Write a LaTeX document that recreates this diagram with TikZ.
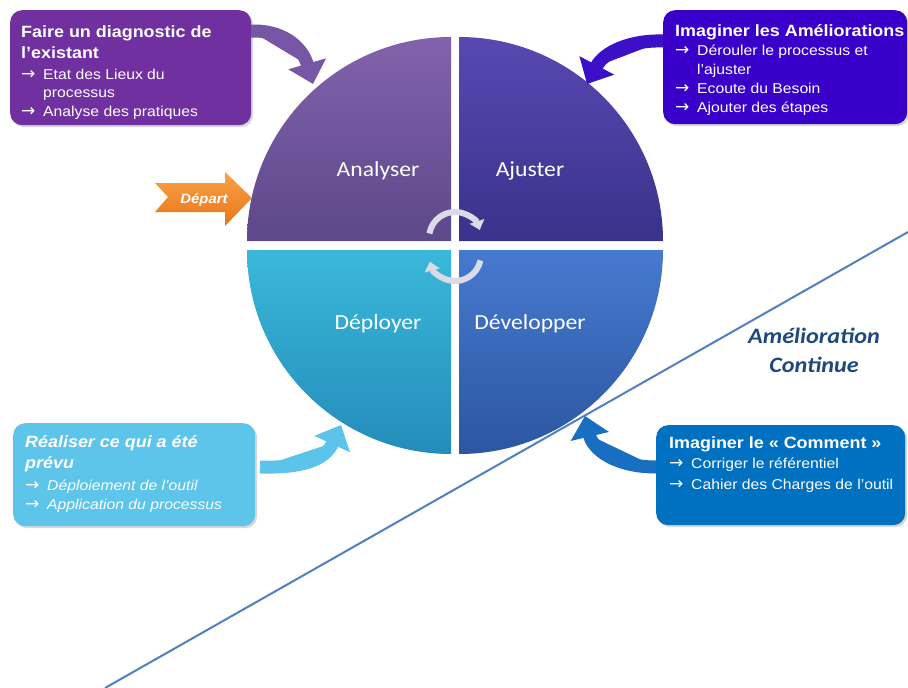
\documentclass[tikz,border=0pt]{standalone}
\usepackage{fontspec}
\setmainfont[FakeStretch=1.1]{Liberation Sans}
\newfontfamily\calib[FakeStretch=1.1]{Carlito}
\newfontfamily\arr{DejaVu Sans}
\usetikzlibrary{arrows.meta,shadows}
\definecolor{boxA}{RGB}{112,48,160}
\definecolor{boxB}{RGB}{56,0,200}
\definecolor{boxC}{RGB}{93,196,234}
\definecolor{boxD}{RGB}{0,112,192}
\definecolor{diag}{RGB}{79,129,189}
\definecolor{amel}{RGB}{31,73,125}
\definecolor{qAtop}{RGB}{130,98,172}
\definecolor{qAbot}{RGB}{92,72,138}
\definecolor{qBtop}{RGB}{88,72,178}
\definecolor{qBbot}{RGB}{58,50,138}
\definecolor{qCtop}{RGB}{58,184,218}
\definecolor{qCbot}{RGB}{36,140,186}
\definecolor{qDtop}{RGB}{70,122,208}
\definecolor{qDbot}{RGB}{44,86,160}
\definecolor{arA}{RGB}{120,86,166}
\definecolor{arB}{RGB}{60,16,198}
\definecolor{arC}{RGB}{92,196,234}
\definecolor{arD}{RGB}{24,110,192}
\definecolor{orTop}{RGB}{250,162,72}
\definecolor{orBot}{RGB}{232,118,22}
\definecolor{cyc}{RGB}{218,218,232}
\newcommand{\ttlfont}{\fontsize{16.3}{19}\selectfont\bfseries}
\newcommand{\itfont}{\fontsize{14.3}{17}\selectfont}
\newcommand{\ra}{\makebox[22pt][l]{\arr\fontsize{17}{17}\selectfont\raisebox{-0.5pt}{→}}}
\begin{document}
\begin{tikzpicture}[x=1pt,y=-1pt,
  infobox/.style={rounded corners=12pt, draw=none, inner sep=0pt,
    drop shadow={shadow xshift=2pt, shadow yshift=-2pt, opacity=0.3}},
  ttl/.style={anchor=base west, inner sep=0pt, text=white, font=\ttlfont},
  itm/.style={anchor=base west, inner sep=0pt, text=white, font=\itfont},
  quadlbl/.style={anchor=base, inner sep=0pt, text=white, font=\calib\fontsize{21.5}{24}\selectfont},
  blockarrow/.style={line width=13pt, -{Triangle[width=38pt,length=21pt]}},
  cycarrow/.style={line width=6pt, draw=cyc, -{Triangle[width=15pt,length=9pt]}},
  amtxt/.style={anchor=base, inner sep=0pt, text=amel, font=\calib\bfseries\itshape\fontsize{22}{26}\selectfont}
]
\useasboundingbox (0,0) rectangle (908,688);
\fill[white] (0,0) rectangle (908,688);

% diagonal line
\coordinate (d0) at (105,688);
\coordinate (d1) at (908,232);
\draw[diag, line width=2pt] (d0) -- (d1);

% quadrants
\shade[top color=qAtop, bottom color=qAbot] (451,241) -- (247,241) arc[start angle=180, end angle=270, radius=204] -- cycle;
\shade[top color=qBtop, bottom color=qBbot] (459,241) -- (459,37) arc[start angle=270, end angle=360, radius=204] -- cycle;
\shade[top color=qCtop, bottom color=qCbot] (451,250) -- (451,454) arc[start angle=90, end angle=180, radius=204] -- cycle;
\shade[top color=qDtop, bottom color=qDbot] (459,250) -- (663,250) arc[start angle=0, end angle=90, radius=204] -- cycle;

\node[quadlbl] (qa) at (378,176) {Analyser};
\node[quadlbl] (qb) at (530,176) {Ajuster};
\node[quadlbl] (qc) at (378,329) {Déployer};
\node[quadlbl] (qd) at (530,329) {Développer};

% center cycle arrows
\draw[cycarrow] (455,238) ++(190:26) arc[start angle=190, end angle=342, radius=26];
\draw[cycarrow] (455,255) ++(12:26) arc[start angle=12, end angle=165, radius=26];

% Amelioration continue
\node[amtxt] (am1) at (814,343) {Amélioration};
\node[amtxt] (am2) at (814,372) {Continue};

% boxes
\node[infobox, fill=boxA, anchor=north west, minimum width=241pt, minimum height=115pt] (b1) at (10,10) {};
\node[infobox, fill=boxB, anchor=north west, minimum width=244pt, minimum height=114pt] (b2) at (663,10) {};
\node[infobox, fill=boxC, anchor=north west, minimum width=242pt, minimum height=103pt] (b3) at (13,423) {};
\node[infobox, fill=boxD, anchor=north west, minimum width=249pt, minimum height=100pt] (b4) at (656,425) {};

% box 1 text
\node[ttl] (t1a) at (21,37) {Faire un diagnostic de};
\node[ttl] (t1b) at (21,58) {l’existant};
\node[itm] (t1c) at (21,79) {\ra Etat des Lieux du};
\node[itm] (t1d) at (43,97) {processus};
\node[itm] (t1e) at (21,116) {\ra Analyse des pratiques};

% box 2 text
\node[ttl] (t2a) at (675,36) {Imaginer les Améliorations};
\node[itm] (t2b) at (675,55) {\ra Dérouler le processus et};
\node[itm] (t2c) at (697,74) {l’ajuster};
\node[itm] (t2d) at (675,93) {\ra Ecoute du Besoin};
\node[itm] (t2e) at (675,112) {\ra Ajouter des étapes};

% box 3 text
\node[ttl, font=\ttlfont\itshape] (t3a) at (25,447) {Réaliser ce qui a été};
\node[ttl, font=\ttlfont\itshape] (t3b) at (25,468) {prévu};
\node[itm, font=\itfont\itshape] (t3c) at (25,490) {\ra Déploiement de l’outil};
\node[itm, font=\itfont\itshape] (t3d) at (25,509) {\ra Application du processus};

% box 4 text
\node[ttl] (t4a) at (669,448) {Imaginer le « Comment »};
\node[itm] (t4b) at (669,468) {\ra Corriger le référentiel};
\node[itm] (t4c) at (669,489) {\ra Cahier des Charges de l’outil};

% curved block arrows
\coordinate (a1s) at (251,31);
\coordinate (a1e) at (313,84);
\draw[blockarrow, draw=arA, fill=arA] (a1s) .. controls (282,30) and (302,46) .. (a1e);
\coordinate (a2s) at (663,41);
\coordinate (a2e) at (587,84);
\draw[blockarrow, draw=arB, fill=arB] (a2s) .. controls (630,40) and (604,52) .. (a2e);
\coordinate (a3s) at (260,467);
\coordinate (a3e) at (341,425);
\draw[blockarrow, draw=arC, fill=arC] (a3s) .. controls (298,468) and (324,462) .. (a3e);
\coordinate (a4s) at (656,467);
\coordinate (a4e) at (585,416);
\draw[blockarrow, draw=arD, fill=arD] (a4s) .. controls (616,467) and (593,450) .. (a4e);

% Depart arrow
\shade[top color=orTop, bottom color=orBot] (155,183) -- (225,183) -- (225,172) -- (252,198) -- (225,226) -- (225,212) -- (155,212) -- (168,197) -- cycle;
\node[anchor=base, inner sep=0pt, text=white, font=\fontsize{13.5}{15}\selectfont\bfseries\itshape] (dep) at (204,203) {Départ};
\end{tikzpicture}
\end{document}
